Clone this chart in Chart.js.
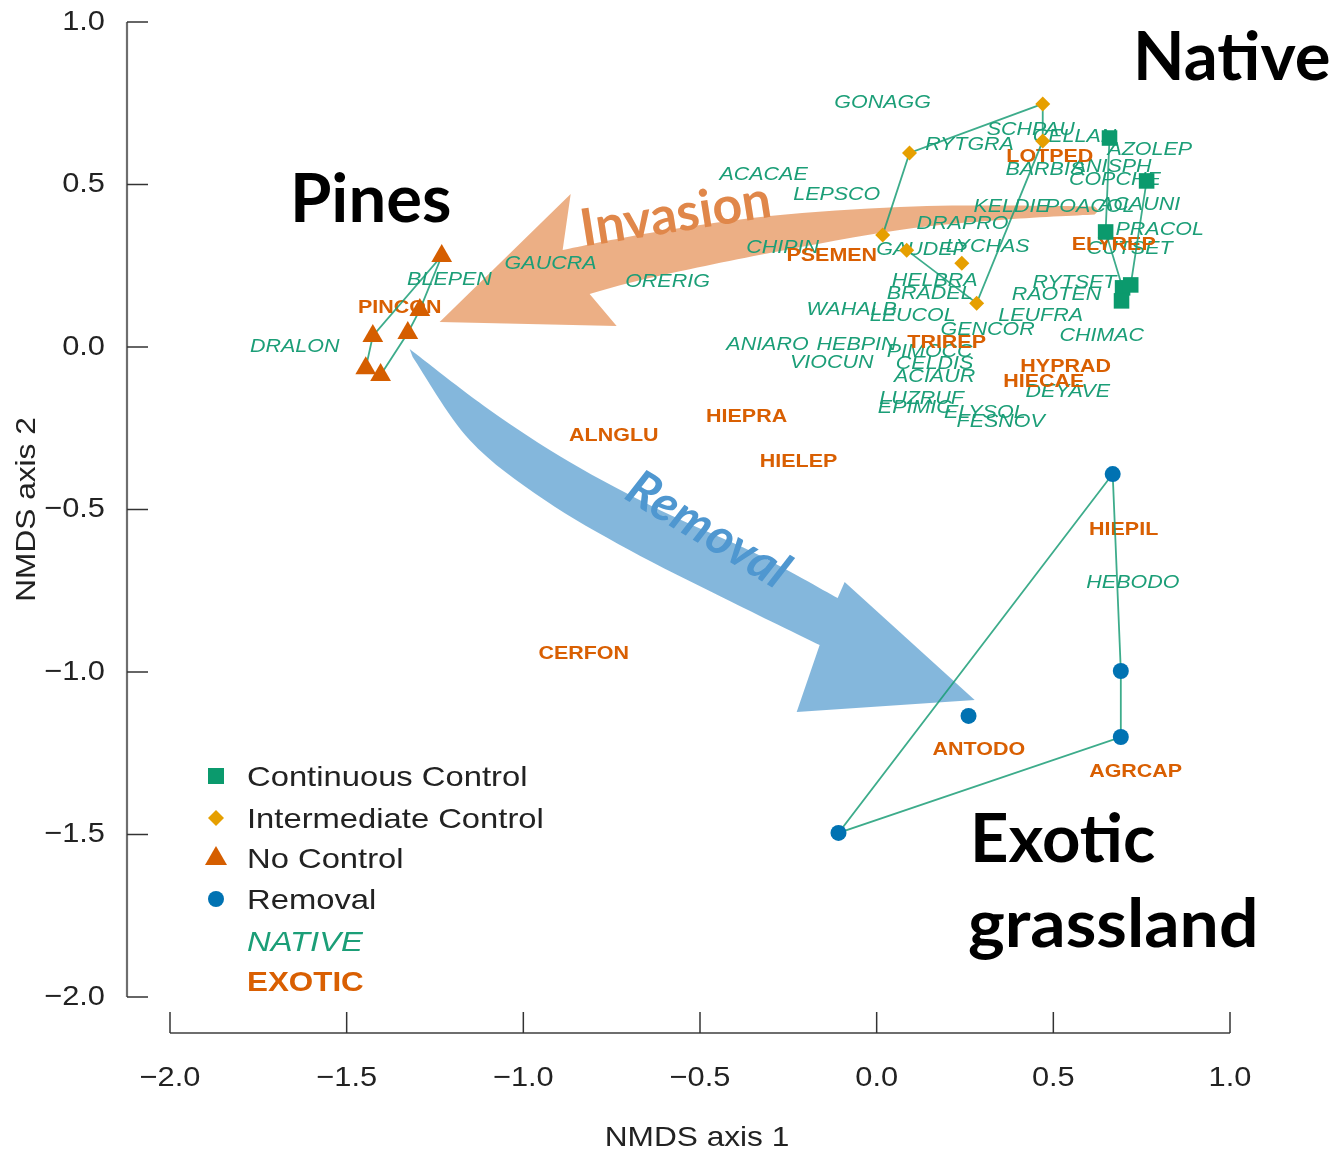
<!DOCTYPE html>
<html>
<head>
<meta charset="utf-8">
<script src="https://cdn.jsdelivr.net/npm/chart.js@4.4.0/dist/chart.umd.min.js"></script>
<style>
html,body{margin:0;padding:0;background:#fff;}
#wrap{width:1338px;height:1155px;position:relative;}
</style>
</head>
<body>
<div id="wrap"><canvas id="c" width="1338" height="1155"></canvas></div>
<script>
// ---------------- DATA ----------------
const xTickValues = [-2.0, -1.5, -1.0, -0.5, 0.0, 0.5, 1.0];
const xTickLabels = ['\u22122.0', '\u22121.5', '\u22121.0', '\u22120.5', '0.0', '0.5', '1.0'];
const yTickValues = [1.0, 0.5, 0.0, -0.5, -1.0, -1.5, -2.0];
const yTickLabels = ['1.0', '0.5', '0.0', '\u22120.5', '\u22121.0', '\u22121.5', '\u22122.0'];

const groupNames = ['Continuous Control', 'Intermediate Control', 'No Control', 'Removal'];

// site scores [NMDS1, NMDS2]
const continuousControl = [[0.659, 0.643], [0.648, 0.354], [0.696, 0.182], [0.693, 0.142], [0.719, 0.191], [0.764, 0.511]];
const intermediateControl = [[0.085, 0.298], [0.283, 0.135], [0.470, 0.634], [0.470, 0.748], [0.093, 0.597], [0.017, 0.345], [0.241, 0.258]];
const noControl = [[-1.446, -0.065], [-1.426, 0.034], [-1.231, 0.280], [-1.293, 0.114], [-1.327, 0.043], [-1.404, -0.086]];
const removal = [[0.668, -0.391], [0.691, -0.997], [0.691, -1.200], [-0.108, -1.495], [0.260, -1.135]];

// connecting paths (indices into the arrays above)
const continuousPath = [0, 1, 2, 3, 4, 5];
const intermediatePath = [0, 1, 2, 3, 4, 5];
const noControlPath = [0, 1, 2, 3, 4, 5];
const removalPath = [0, 1, 2, 3, 0];

// species scores
const nativeSpecies = ['GONAGG','SCHPAU','RYTGRA','CELLAN','AZOLEP','BARBIS','ANISPH','COPCHE','ACACAE','LEPSCO','KELDIE','POACOL','ACAUNI','DRAPRO','PRACOL','CHIPIN','GAUDEP','LYCHAS','CUTSET','BLEPEN','GAUCRA','ORERIG','HELBRA','BRADEL','RYTSET','RAOTEN','WAHALB','LEUCOL','LEUFRA','GENCOR','CHIMAC','DRALON','ANIARO','HEBPIN','VIOCUN','PIMOCC','CELDIS','ACIAUR','LUZRUF','EPIMIC','ELYSOL','FESNOV','DEYAVE','HEBODO'];
const nativeX = [0.017,0.436,0.263,0.560,0.773,0.476,0.665,0.674,-0.320,-0.113,0.382,0.603,0.744,0.243,0.801,-0.266,0.127,0.314,0.716,-1.209,-0.923,-0.592,0.164,0.150,0.560,0.509,-0.071,0.102,0.464,0.314,0.637,-1.647,-0.309,-0.057,-0.127,0.150,0.164,0.164,0.127,0.108,0.306,0.351,0.541,0.725];
const nativeY = [0.751,0.668,0.622,0.646,0.606,0.545,0.554,0.514,0.529,0.468,0.431,0.431,0.437,0.379,0.360,0.305,0.299,0.308,0.302,0.206,0.255,0.200,0.203,0.163,0.197,0.160,0.114,0.095,0.095,0.052,0.034,0.000,0.006,0.006,-0.049,-0.015,-0.052,-0.092,-0.160,-0.188,-0.203,-0.231,-0.139,-0.726];

const exoticSpecies = ['LOTPED','PSEMEN','ELYREP','PINCON','TRIREP','HYPRAD','HIECAE','HIEPRA','ALNGLU','HIELEP','HIEPIL','CERFON','ANTODO','AGRCAP'];
const exoticX = [0.490,-0.127,0.671,-1.350,0.198,0.535,0.473,-0.368,-0.744,-0.221,0.699,-0.829,0.289,0.733];
const exoticY = [0.585,0.280,0.314,0.120,0.012,-0.062,-0.108,-0.215,-0.274,-0.354,-0.563,-0.945,-1.240,-1.308];

// ---------------- STYLE ----------------
const COL_SQ = '#0b9a6d', COL_DI = '#e69f00', COL_TRI = '#d55e00', COL_CI = '#0072b2';
const COL_NATIVE = '#1b9e77', COL_EXOTIC = '#d95f02';
const COL_PATH = 'rgba(27,158,119,0.85)';
const HS = 1.13; // horizontal text stretch of the original figure

function toXY(arr) { return arr.map(p => ({x: p[0], y: p[1]})); }
function pathXY(arr, idx) { return idx.map(i => ({x: arr[i][0], y: arr[i][1]})); }

function pathDataset(arr, idx) {
  return { type: 'line', data: pathXY(arr, idx), showLine: true, borderColor: COL_PATH, borderWidth: 1.8,
    pointRadius: 0, fill: false, tension: 0, order: 2, clip: false };
}
function pointDataset(label, arr, style, radius, color) {
  return { label, data: toXY(arr), showLine: false, pointStyle: style, pointRadius: radius,
    pointHoverRadius: radius, backgroundColor: color, borderColor: color, borderWidth: 0, order: 0, clip: false };
}

const datasets = [
  pathDataset(continuousControl, continuousPath),
  pathDataset(intermediateControl, intermediatePath),
  pathDataset(noControl, noControlPath),
  pathDataset(removal, removalPath),
  pointDataset(groupNames[0], continuousControl, 'rect', 11, COL_SQ),
  pointDataset(groupNames[1], intermediateControl, 'rectRot', 7.5, COL_DI),
  pointDataset(groupNames[2], noControl, 'triangle', 12, COL_TRI),
  pointDataset(groupNames[3], removal, 'circle', 8, COL_CI)
];

// ---------------- ANNOTATION GEOMETRY (data units) ----------------
const invasionHead = { tip: [-1.2368, 0.0769], upper: [-0.8660, 0.4708], lower: [-0.7359, 0.0646] };
const invasionUpper = [[-0.8887,0.2985],[-0.6425,0.3508],[-0.3028,0.4031],[0.0651,0.4308],[0.3481,0.4354],[0.6170,0.4323]];
const invasionEnd = [0.6283, 0.4200];
const invasionLower = [[0.6170,0.4077],[0.3481,0.3908],[0.0651,0.3600],[-0.3028,0.2892],[-0.6425,0.2123],[-0.8123,0.1631]];

const removalHead = { upper: [-0.0906,-0.7231], tip: [0.2774,-1.0862], lower: [-0.2264,-1.1231] };
const removalUpper = [[-1.3217,-0.0062],[-1.0953,-0.1938],[-0.8689,-0.3538],[-0.6142,-0.5015],[-0.3453,-0.6338],[-0.1104,-0.7723]];
const removalLower = [[-0.1613,-0.9169],[-0.4302,-0.7738],[-0.7000,-0.6246],[-0.9396,-0.4708],[-1.1519,-0.2862],[-1.3132,-0.0308]];

// ---------------- HELPERS ----------------
function stretchText(ctx, text, x, y, align, sx) {
  ctx.save();
  ctx.translate(x, y);
  ctx.scale(sx, 1);
  ctx.textAlign = align;
  ctx.fillText(text, 0, 0);
  ctx.restore();
}
function curveThrough(ctx, pts) {
  ctx.lineTo(pts[0][0], pts[0][1]);
  for (let i = 0; i < pts.length - 1; i++) {
    const p0 = pts[Math.max(i - 1, 0)], p1 = pts[i], p2 = pts[i + 1], p3 = pts[Math.min(i + 2, pts.length - 1)];
    ctx.bezierCurveTo(p1[0] + (p2[0] - p0[0]) / 6, p1[1] + (p2[1] - p0[1]) / 6,
                      p2[0] - (p3[0] - p1[0]) / 6, p2[1] - (p3[1] - p1[1]) / 6, p2[0], p2[1]);
  }
}

const customPlugin = {
  id: 'custom',
  beforeDatasetsDraw(chart) {
    const ctx = chart.ctx, sx = chart.scales.x, sy = chart.scales.y;
    const P = p => [sx.getPixelForValue(p[0]), sy.getPixelForValue(p[1])];

    // Invasion arrow
    ctx.save();
    ctx.fillStyle = 'rgba(232,158,106,0.82)';
    ctx.beginPath();
    let t = P(invasionHead.tip); ctx.moveTo(t[0], t[1]);
    let u = P(invasionHead.upper); ctx.lineTo(u[0], u[1]);
    curveThrough(ctx, invasionUpper.map(P));
    let e = P(invasionEnd); ctx.lineTo(e[0], e[1]);
    curveThrough(ctx, invasionLower.map(P));
    let l = P(invasionHead.lower); ctx.lineTo(l[0], l[1]);
    ctx.closePath();
    ctx.fill();

    // Removal arrow
    ctx.fillStyle = 'rgba(110,170,214,0.85)';
    ctx.beginPath();
    const ru = removalUpper.map(P);
    ctx.moveTo(ru[0][0], ru[0][1]);
    curveThrough(ctx, ru);
    let rh = P(removalHead.upper); ctx.lineTo(rh[0], rh[1]);
    rh = P(removalHead.tip); ctx.lineTo(rh[0], rh[1]);
    rh = P(removalHead.lower); ctx.lineTo(rh[0], rh[1]);
    curveThrough(ctx, removalLower.map(P));
    ctx.closePath();
    ctx.fill();

    // arrow texts
    ctx.textBaseline = 'middle';
    let c = P([-0.5689, 0.4062]);
    ctx.save(); ctx.translate(c[0], c[1]); ctx.rotate(-9 * Math.PI / 180);
    ctx.font = 'bold 52px Lato, "Open Sans", sans-serif'; ctx.fillStyle = '#e0874a'; ctx.textAlign = 'center';
    ctx.fillText('Invasion', 0, 0); ctx.restore();
    c = P([-0.4783, -0.5631]);
    ctx.save(); ctx.translate(c[0], c[1]); ctx.rotate(31 * Math.PI / 180);
    ctx.font = 'italic bold 50px Lato, "Open Sans", sans-serif'; ctx.fillStyle = '#4f97d0'; ctx.textAlign = 'center';
    ctx.fillText('Removal', 0, 0); ctx.restore();

    // species labels
    ctx.textBaseline = 'middle';
    ctx.font = 'italic 19px "Liberation Sans", Arial, sans-serif';
    ctx.fillStyle = COL_NATIVE;
    nativeSpecies.forEach((n, i) => {
      stretchText(ctx, n, sx.getPixelForValue(nativeX[i]), sy.getPixelForValue(nativeY[i]), 'center', HS);
    });
    ctx.font = 'bold 19px "Liberation Sans", Arial, sans-serif';
    ctx.fillStyle = COL_EXOTIC;
    exoticSpecies.forEach((n, i) => {
      stretchText(ctx, n, sx.getPixelForValue(exoticX[i]), sy.getPixelForValue(exoticY[i]), 'center', HS);
    });
    ctx.restore();
  },
  afterDraw(chart) {
    const ctx = chart.ctx, sx = chart.scales.x, sy = chart.scales.y, ca = chart.chartArea;
    ctx.save();
    // Y axis (detached)
    const yAxisX = ca.left - 43;
    ctx.strokeStyle = '#6e6e6e'; ctx.lineWidth = 2.2;
    ctx.beginPath();
    ctx.moveTo(yAxisX, sy.getPixelForValue(1.0)); ctx.lineTo(yAxisX, sy.getPixelForValue(-2.0)); ctx.stroke();
    ctx.strokeStyle = '#333'; ctx.lineWidth = 1.5;
    yTickValues.forEach(v => {
      const y = sy.getPixelForValue(v);
      ctx.beginPath(); ctx.moveTo(yAxisX, y); ctx.lineTo(yAxisX + 21, y); ctx.stroke();
    });
    // X axis (detached)
    const xAxisY = ca.bottom + 36;
    ctx.strokeStyle = '#6e6e6e'; ctx.lineWidth = 2.2;
    ctx.beginPath();
    ctx.moveTo(sx.getPixelForValue(-2.0), xAxisY); ctx.lineTo(sx.getPixelForValue(1.0), xAxisY); ctx.stroke();
    ctx.strokeStyle = '#333'; ctx.lineWidth = 1.5;
    xTickValues.forEach(v => {
      const x = sx.getPixelForValue(v);
      ctx.beginPath(); ctx.moveTo(x, xAxisY); ctx.lineTo(x, xAxisY - 21); ctx.stroke();
    });
    // tick labels
    ctx.fillStyle = '#222';
    ctx.font = '28px "Liberation Sans", Arial, sans-serif';
    ctx.textBaseline = 'middle';
    yTickValues.forEach((v, i) => stretchText(ctx, yTickLabels[i], yAxisX - 22, sy.getPixelForValue(v), 'right', 1.1));
    xTickValues.forEach((v, i) => stretchText(ctx, xTickLabels[i], sx.getPixelForValue(v), xAxisY + 45, 'center', 1.1));
    // axis titles
    ctx.font = '28px "Liberation Sans", Arial, sans-serif';
    stretchText(ctx, 'NMDS axis 1', (sx.getPixelForValue(-2) + sx.getPixelForValue(1)) / 2 - 3, xAxisY + 105, 'center', HS);
    ctx.save();
    ctx.translate(27, (sy.getPixelForValue(1) + sy.getPixelForValue(-2)) / 2);
    ctx.rotate(-Math.PI / 2);
    ctx.save(); ctx.scale(HS, 1); ctx.textAlign = 'center'; ctx.fillText('NMDS axis 2', 0, 0); ctx.restore();
    ctx.restore();

    // legend
    const lx = 216, tx = 247;
    const rows = [776, 818, 858, 899, 941, 981];
    ctx.fillStyle = COL_SQ; ctx.fillRect(lx - 8, rows[0] - 8, 16, 16);
    ctx.fillStyle = COL_DI; ctx.beginPath();
    ctx.moveTo(lx, rows[1] - 8); ctx.lineTo(lx + 8, rows[1]); ctx.lineTo(lx, rows[1] + 8); ctx.lineTo(lx - 8, rows[1]); ctx.closePath(); ctx.fill();
    ctx.fillStyle = COL_TRI; ctx.beginPath();
    ctx.moveTo(lx, rows[2] - 12); ctx.lineTo(lx + 11, rows[2] + 7); ctx.lineTo(lx - 11, rows[2] + 7); ctx.closePath(); ctx.fill();
    ctx.fillStyle = COL_CI; ctx.beginPath(); ctx.arc(lx, rows[3], 8, 0, Math.PI * 2); ctx.fill();
    ctx.font = '28px "Liberation Sans", Arial, sans-serif';
    ctx.fillStyle = '#222';
    groupNames.forEach((g, i) => stretchText(ctx, g, tx, rows[i] + 2, 'left', 1.17));
    ctx.font = 'italic 28px "Liberation Sans", Arial, sans-serif';
    ctx.fillStyle = COL_NATIVE;
    stretchText(ctx, 'NATIVE', tx, rows[4] + 2, 'left', 1.17);
    ctx.font = 'bold 28px "Liberation Sans", Arial, sans-serif';
    ctx.fillStyle = COL_EXOTIC;
    stretchText(ctx, 'EXOTIC', tx, rows[5] + 2, 'left', 1.12);

    // big annotations
    ctx.fillStyle = '#000';
    ctx.font = 'bold 67px Lato, "Open Sans", sans-serif';
    ctx.textBaseline = 'alphabetic';
    ctx.textAlign = 'left';
    ctx.fillText('Native', 1133, 80);
    ctx.fillText('Pines', 290, 222);
    ctx.fillText('Exotic', 970, 862);
    ctx.save(); ctx.translate(968, 947); ctx.scale(1.04, 1); ctx.fillText('grassland', 0, 0); ctx.restore();
    ctx.restore();
  }
};

new Chart(document.getElementById('c').getContext('2d'), {
  type: 'scatter',
  data: { datasets },
  options: {
    responsive: false,
    animation: false,
    devicePixelRatio: 1,
    layout: { padding: { left: 170, right: 108, top: 22, bottom: 158 } },
    scales: {
      x: { type: 'linear', min: -2, max: 1, display: false },
      y: { type: 'linear', min: -2, max: 1, display: false }
    },
    plugins: { legend: { display: false }, tooltip: { enabled: false } },
    events: []
  },
  plugins: [customPlugin]
});
</script>
</body>
</html>
